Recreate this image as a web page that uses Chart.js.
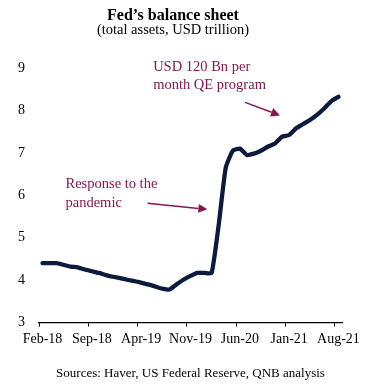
<!DOCTYPE html>
<html>
<head>
<meta charset="utf-8">
<script src="https://cdn.jsdelivr.net/npm/chart.js@4"></script>
<style>
  html, body { margin: 0; padding: 0; background: #ffffff; }
  canvas { display: block; }
</style>
</head>
<body>
<canvas id="c" width="375" height="386"></canvas>
<script>
// ---- Data ----
const months = [
  'Feb-18','Mar-18','Apr-18','May-18','Jun-18','Jul-18','Aug-18','Sep-18','Oct-18','Nov-18','Dec-18',
  'Jan-19','Feb-19','Mar-19','Apr-19','May-19','Jun-19','Jul-19','Aug-19','Sep-19','Oct-19','Nov-19','Dec-19',
  'Jan-20','Feb-20','Mar-20','Apr-20','May-20','Jun-20','Jul-20','Aug-20','Sep-20','Oct-20','Nov-20','Dec-20',
  'Jan-21','Feb-21','Mar-21','Apr-21','May-21','Jun-21','Jul-21','Aug-21'
];
const totalAssets = [
  4.40, 4.40, 4.40, 4.36, 4.32, 4.30, 4.25, 4.21, 4.17, 4.12, 4.08,
  4.05, 4.01, 3.98, 3.94, 3.90, 3.85, 3.80, 3.78, 3.90, 4.01, 4.10, 4.17,
  4.17, 4.17, 5.30, 6.65, 7.05, 7.10, 6.95, 6.98, 7.05, 7.15, 7.22, 7.38,
  7.42, 7.58, 7.68, 7.78, 7.90, 8.05, 8.22, 8.32
];
const yTicks = [3, 4, 5, 6, 7, 8, 9];
const labelEvery = 7;

const titleText = 'Fed\u2019s balance sheet';
const subtitleText = '(total assets, USD trillion)';
const sourceText = 'Sources: Haver, US Federal Reserve, QNB analysis';
const note1Lines = ['Response to the', 'pandemic'];
const note2Lines = ['USD 120 Bn per', 'month QE program'];

// ---- Styling ----
const SERIF = '"Liberation Serif", "Times New Roman", serif';
const NOTE_COLOR = '#86184f';
const LINE_COLOR = '#0c1a3c';

// annotation placement in data space (category index, value)
const annotations = [
  { lines: note1Lines, at: [3.26, 6.26], arrowFrom: [14.9, 5.81], arrowTo: [23.4, 5.67] },
  { lines: note2Lines, at: [15.7, 9.02], arrowFrom: [28.75, 8.19], arrowTo: [33.7, 7.88] }
];

const notePlugin = {
  id: 'notes',
  afterDraw(chart) {
    const ctx = chart.ctx;
    const xs = chart.scales.x, ys = chart.scales.y;
    ctx.save();
    ctx.fillStyle = NOTE_COLOR;
    ctx.strokeStyle = NOTE_COLOR;
    ctx.font = '14.5px ' + SERIF;
    ctx.textBaseline = 'middle';
    ctx.textAlign = 'left';
    annotations.forEach(a => {
      const tx = xs.getPixelForValue(a.at[0]);
      const ty = ys.getPixelForValue(a.at[1]);
      a.lines.forEach((l, i) => ctx.fillText(l, tx, ty + i * 18.5));
      const x1 = xs.getPixelForValue(a.arrowFrom[0]), y1 = ys.getPixelForValue(a.arrowFrom[1]);
      const x2 = xs.getPixelForValue(a.arrowTo[0]), y2 = ys.getPixelForValue(a.arrowTo[1]);
      const ang = Math.atan2(y2 - y1, x2 - x1);
      const hl = 9, hw = 4.5;
      const bx = x2 - hl * Math.cos(ang), by = y2 - hl * Math.sin(ang);
      ctx.lineWidth = 1.5;
      ctx.beginPath();
      ctx.moveTo(x1, y1);
      ctx.lineTo(bx, by);
      ctx.stroke();
      ctx.beginPath();
      ctx.moveTo(x2, y2);
      ctx.lineTo(bx + hw * Math.sin(ang), by - hw * Math.cos(ang));
      ctx.lineTo(bx - hw * Math.sin(ang), by + hw * Math.cos(ang));
      ctx.closePath();
      ctx.fill();
    });
    ctx.restore();
  }
};

new Chart(document.getElementById('c'), {
  type: 'line',
  data: {
    labels: months,
    datasets: [{
      data: totalAssets,
      borderColor: LINE_COLOR,
      borderWidth: 4.3,
      pointRadius: 0,
      tension: 0.15,
      borderJoinStyle: 'round',
      borderCapStyle: 'round',
      fill: false
    }]
  },
  options: {
    responsive: false,
    devicePixelRatio: 1,
    animation: false,
    layout: { padding: { left: 4, right: 33, top: 0, bottom: 5 } },
    plugins: {
      legend: { display: false },
      tooltip: { enabled: false },
      title: {
        display: true,
        text: titleText,
        color: '#000',
        font: { family: SERIF, size: 16, weight: 'bold', lineHeight: 0.9 },
        padding: { top: 9, bottom: 0 }
      },
      subtitle: {
        display: true,
        text: subtitleText,
        color: '#000',
        font: { family: SERIF, size: 14.5, lineHeight: 0.9 },
        padding: { top: 0, bottom: 31.5 }
      }
    },
    scales: {
      x: {
        type: 'category',
        offset: true,
        grid: {
          display: true,
          offset: true,
          drawOnChartArea: false,
          drawTicks: true,
          tickLength: 4,
          lineWidth: 1,
          color: ctx => (ctx.index !== undefined && ctx.index % labelEvery === 0) ? '#000' : 'rgba(0,0,0,0)'
        },
        border: { display: true, color: '#000', width: 1.2 },
        ticks: {
          autoSkip: false,
          maxRotation: 0,
          minRotation: 0,
          padding: 4,
          color: '#000',
          font: { family: SERIF, size: 14 },
          callback: function (v, i) { return i % labelEvery === 0 ? this.getLabelForValue(v) : ''; }
        },
        title: {
          display: true,
          text: sourceText,
          color: '#000',
          font: { family: SERIF, size: 13, lineHeight: 1.2 },
          padding: { top: 14, bottom: 0 }
        }
      },
      y: {
        min: yTicks[0],
        max: yTicks[yTicks.length - 1],
        afterBuildTicks: axis => { axis.ticks = yTicks.map(v => ({ value: v })); },
        grid: { display: false, drawTicks: false },
        border: { display: false },
        ticks: {
          padding: 14,
          color: '#000',
          font: { family: SERIF, size: 14 }
        }
      }
    }
  },
  plugins: [notePlugin]
});
</script>
</body>
</html>
